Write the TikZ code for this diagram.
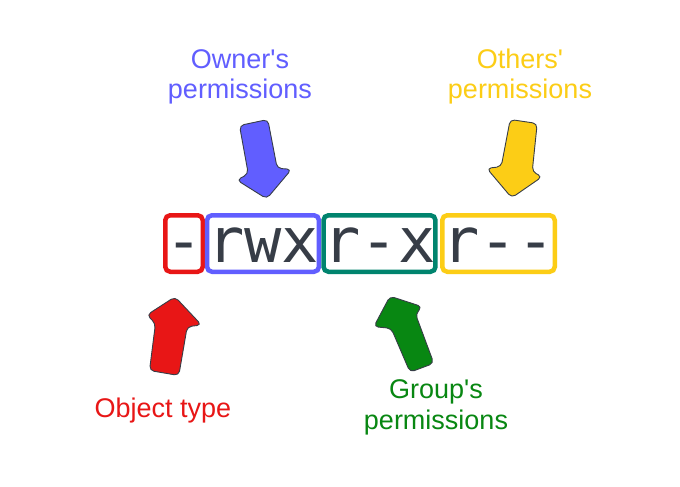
\documentclass[tikz,border=0pt]{standalone}
\usepackage{fontspec}
\setmainfont{Liberation Sans}
\newfontfamily\permmono{DejaVu Sans Mono}
\definecolor{cred}{RGB}{232,22,22}
\definecolor{cblue}{RGB}{97,94,255}
\definecolor{cteal}{RGB}{0,132,110}
\definecolor{cyellow}{RGB}{252,205,22}
\definecolor{cgreen}{RGB}{8,135,18}
\definecolor{textgray}{RGB}{55,61,71}
\begin{document}
\begin{tikzpicture}[x=1pt,y=-1pt,
  permbox/.style={draw=#1, line width=4.5pt, rounded corners=5pt,
    minimum height=56.5pt, inner sep=0pt, text=textgray,
    font=\permmono\fontsize{62}{62}\selectfont, text height=37pt, text depth=0pt},
  blockarrow/.style={fill=#1, draw=textgray, line width=0.9pt,
    rounded corners=4.5pt, line join=round},
  lbl/.style={font=\fontsize{27}{31}\selectfont, align=center, text=#1,
    inner sep=0pt, anchor=base}]
\useasboundingbox (0,0) rectangle (680,487);
\fill[white] (0,0) rectangle (680,487);
% permission boxes
\node[permbox=cred,    minimum width=37.5pt]  (ot) at (184,243.5)   {-};
\node[permbox=cblue,   minimum width=109.5pt] (ow) at (263,243.5)   {rwx};
\node[permbox=cteal,   minimum width=110.5pt] (gr) at (379.5,243.5) {r-x};
\node[permbox=cyellow, minimum width=112.5pt] (oth) at (498.5,243.5) {r--};
% block arrows
\draw[blockarrow=cblue] (239.5,125.5) -- (267.8,119.5) -- (277.2,168.3) -- (291.5,169.3)
  -- (266.7,198.8) -- (236.8,180) -- (248.3,174) -- cycle;
\draw[blockarrow=cyellow] (510.2,119.5) -- (537.2,123.5) -- (532.2,171.7) -- (542.2,176.7)
  -- (511.7,197.8) -- (486.8,168.3) -- (501.2,166.7) -- cycle;
\draw[blockarrow=cred] (175,296.8) -- (201.5,325) -- (187.2,326.7) -- (178.8,375.5)
  -- (149.5,370.5) -- (155.5,323.3) -- (146.8,315) -- cycle;
\draw[blockarrow=cgreen] (390,296.2) -- (422.2,306.7) -- (415.5,314) -- (433.8,363.3)
  -- (410,372.2) -- (391.2,328.3) -- (373.8,326.7) -- cycle;
% labels
\node[lbl=cblue]   (lown) at (240,99)  {Owner\textquotesingle s\\permissions};
\node[lbl=cyellow] (loth) at (520,99)  {Others\textquotesingle\\permissions};
\node[lbl=cred]    (lobj) at (163,417) {Object type};
\node[lbl=cgreen]  (lgrp) at (436,429) {Group\textquotesingle s\\permissions};
\end{tikzpicture}
\end{document}
